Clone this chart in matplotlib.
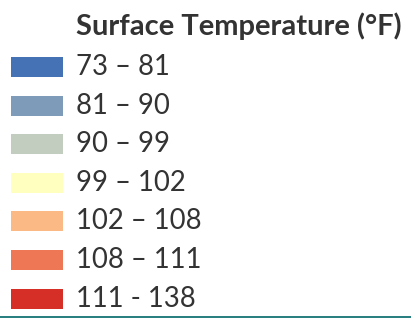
import matplotlib
matplotlib.use("Agg")
import matplotlib.pyplot as plt
from matplotlib.patches import Rectangle

title = "Surface Temperature (°F)"
labels = ["73 – 81", "81 – 90", "90 – 99", "99 – 102", "102 – 108", "108 – 111", "111 - 138"]
colors = ["#4572b4", "#7f9bba", "#c2cdbf", "#ffffc0", "#fbb985", "#ee7755", "#d62f28"]

W, H = 411, 318
fig = plt.figure(figsize=(W / 100, H / 100), dpi=100)
ax = fig.add_axes([0, 0, 1, 1])
ax.set_xlim(0, W)
ax.set_ylim(H, 0)
ax.axis("off")

font = ["Lato", "DejaVu Sans"]
ax.text(76, 26, title, fontsize=21, fontweight="bold", color="#333333",
        family=font, va="center", ha="left")

y0, dy = 67, 38.6
for i, (lab, col) in enumerate(zip(labels, colors)):
    yc = y0 + i * dy
    ax.add_patch(Rectangle((11, yc - 10), 52, 20, facecolor=col, edgecolor="none"))
    ax.text(76, yc, lab, fontsize=19.8, color="#333333", family=font,
            va="center", ha="left")

ax.add_patch(Rectangle((0, 315.5), W, 3, facecolor="#2a8080", edgecolor="none"))

fig.savefig("out.png", dpi=100)
